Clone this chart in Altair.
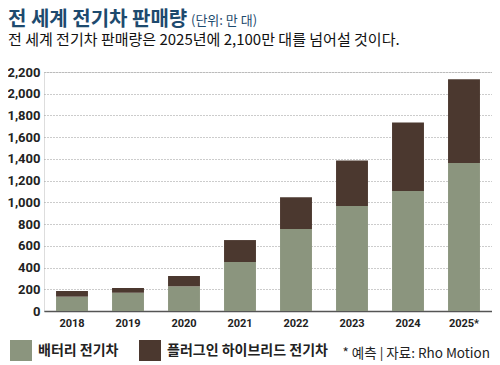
import altair as alt
import pandas as pd

years = ["2018", "2019", "2020", "2021", "2022", "2023", "2024", "2025*"]
bev = [132, 168, 227, 451, 754, 966, 1104, 1362]
total = [184, 212, 322, 653, 1046, 1386, 1736, 2134]
phev = [t - b for t, b in zip(total, bev)]
series = ["배터리 전기차", "플러그인 하이브리드 전기차"]
colors = ["#8b957e", "#4b382f"]
y_ticks = [0, 200, 400, 600, 800, 1000, 1200, 1400, 1600, 1800, 2000, 2200]

rows = []
for i, y in enumerate(years):
    rows.append({"year": y, "type": series[0], "value": bev[i], "order": 0})
    rows.append({"year": y, "type": series[1], "value": phev[i], "order": 1})
df = pd.DataFrame(rows)

KR = "Noto Sans CJK KR"
COND = "Roboto"

W, H = 448, 239

bars = alt.Chart(df).mark_bar().encode(
    x=alt.X("year:N", sort=years, title=None,
            scale=alt.Scale(paddingInner=0.43, paddingOuter=0.215),
            axis=alt.Axis(labelAngle=0, ticks=False, domainColor="#555555",
                          domainWidth=1.5, labelFont=COND, labelFontWeight="bold",
                          labelFontSize=11, labelColor="#222222", labelPadding=6)),
    y=alt.Y("value:Q", stack="zero", title=None,
            scale=alt.Scale(domain=[0, 2200], nice=False),
            axis=alt.Axis(values=y_ticks, format=",d", ticks=False, domain=False,
                          grid=True, gridColor="#999999", gridDash=[1, 2],
                          gridWidth=1, labelFont=COND, labelFontWeight="bold",
                          labelFontSize=13, labelColor="#222222", labelPadding=4)),
    color=alt.Color("type:N", sort=series,
                    scale=alt.Scale(domain=series, range=colors),
                    legend=alt.Legend(title=None, orient="none", direction="horizontal",
                                      legendX=-34, legendY=268,
                                      symbolType="square", symbolSize=484,
                                      symbolStrokeWidth=0, symbolOpacity=1,
                                      labelFont=KR, labelFontWeight="bold",
                                      labelFontSize=14, labelColor="#222222",
                                      labelLimit=400,
                                      labelOffset=6, columnPadding=20)),
    order=alt.Order("order:Q"),
)

title_df = pd.DataFrame({"t": ["전 세계 전기차 판매량"]})
title = alt.Chart(title_df).mark_text(
    align="left", baseline="alphabetic", font=KR, fontWeight="bold",
    fontSize=20, color="#1d4a6e"
).encode(text="t:N", x=alt.value(-36), y=alt.value(-46))

unit = alt.Chart(pd.DataFrame({"t": ["(단위: 만 대)"]})).mark_text(
    align="left", baseline="alphabetic", font=KR, fontWeight="normal",
    fontSize=13, color="#1d4a6e"
).encode(text="t:N", x=alt.value(147), y=alt.value(-47))

sub = alt.Chart(pd.DataFrame({"t": ["전 세계 전기차 판매량은 2025년에 2,100만 대를 넘어설 것이다."]})).mark_text(
    align="left", baseline="alphabetic", font=KR, fontSize=15, color="#111111"
).encode(text="t:N", x=alt.value(-36), y=alt.value(-27))

src = alt.Chart(pd.DataFrame({"t": ["* 예측 | 자료: Rho Motion"]})).mark_text(
    align="right", baseline="alphabetic", font=KR, fontSize=13.5, color="#222222"
).encode(text="t:N", x=alt.value(446), y=alt.value(286))

chart = alt.layer(bars, title, unit, sub, src).properties(
    width=W, height=H,
    autosize=alt.AutoSizeParams(type="none"),
    padding={"left": 36, "top": 64, "right": 0, "bottom": 50},
).configure_view(stroke=None).configure(background="white")

chart.save("out.html", embed_options={"renderer": "svg", "actions": False})
